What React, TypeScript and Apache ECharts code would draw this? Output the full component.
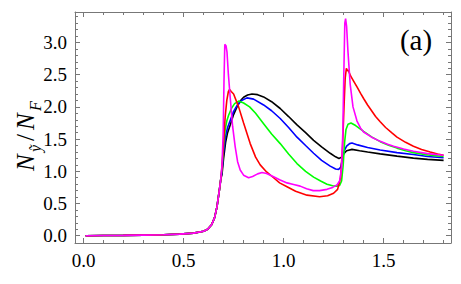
import React, { useEffect, useRef } from "react";
import * as echarts from "echarts";

// ---- data ----
const commonRise: [number, number][] = [
  [0.01, 0], [0.1, 0.003], [0.2, 0.006], [0.3, 0.01], [0.4, 0.015], [0.48, 0.025],
  [0.55, 0.04], [0.6, 0.07], [0.62, 0.1], [0.64, 0.17], [0.655, 0.28], [0.667, 0.45],
  [0.679, 0.71], [0.686, 0.88],
];

const blackTail: [number, number][] = [
  [0.692, 0.95], [0.7, 1.2], [0.71, 1.45], [0.72, 1.6], [0.733, 1.72], [0.75, 1.88],
  [0.767, 2.0], [0.785, 2.1], [0.8, 2.15], [0.82, 2.185], [0.842, 2.2], [0.87, 2.19],
  [0.9, 2.155], [0.94, 2.08], [0.983, 1.975], [1.025, 1.85], [1.067, 1.72], [1.11, 1.6],
  [1.15, 1.48], [1.19, 1.38], [1.233, 1.28], [1.26, 1.225], [1.277, 1.2], [1.29, 1.22],
  [1.3, 1.27], [1.315, 1.32], [1.342, 1.34], [1.38, 1.32], [1.42, 1.3], [1.483, 1.27],
  [1.567, 1.235], [1.649, 1.205], [1.72, 1.185], [1.8, 1.17],
];

const blueTail: [number, number][] = [
  [0.692, 1.0], [0.7, 1.3], [0.71, 1.55], [0.72, 1.68], [0.733, 1.79], [0.75, 1.93],
  [0.767, 2.02], [0.79, 2.1], [0.817, 2.14], [0.85, 2.12], [0.9, 2.03], [0.94, 1.94],
  [0.983, 1.82], [1.025, 1.68], [1.067, 1.53], [1.11, 1.4], [1.15, 1.28], [1.19, 1.17],
  [1.233, 1.08], [1.26, 1.035], [1.275, 1.03], [1.285, 1.06], [1.295, 1.2], [1.305, 1.33],
  [1.315, 1.39], [1.33, 1.43], [1.342, 1.44], [1.37, 1.41], [1.42, 1.37], [1.483, 1.33],
  [1.567, 1.29], [1.649, 1.26], [1.72, 1.23], [1.8, 1.21],
];

const greenTail: [number, number][] = [
  [0.692, 1.05], [0.7, 1.4], [0.708, 1.65], [0.716, 1.78], [0.725, 1.87], [0.74, 1.98],
  [0.755, 2.05], [0.775, 2.09], [0.8, 2.06], [0.83, 2.0], [0.86, 1.9], [0.9, 1.74],
  [0.94, 1.58], [0.983, 1.43], [1.025, 1.27], [1.067, 1.12], [1.11, 1.0], [1.15, 0.91],
  [1.185, 0.85], [1.217, 0.8], [1.245, 0.775], [1.267, 0.77], [1.28, 0.78], [1.29, 0.85],
  [1.298, 1.1], [1.305, 1.45], [1.312, 1.65], [1.322, 1.73], [1.337, 1.75], [1.36, 1.71],
  [1.4, 1.62], [1.44, 1.535], [1.483, 1.46], [1.525, 1.405], [1.567, 1.36], [1.61, 1.32],
  [1.649, 1.29], [1.72, 1.255], [1.8, 1.23],
];

const redTail: [number, number][] = [
  [0.692, 1.07], [0.7, 1.45], [0.708, 1.85], [0.716, 2.1], [0.724, 2.24], [0.73, 2.27],
  [0.738, 2.24], [0.75, 2.2], [0.775, 2.0], [0.8, 1.75], [0.833, 1.43], [0.86, 1.22],
  [0.883, 1.1], [0.915, 0.99], [0.95, 0.9], [0.98, 0.82], [1.017, 0.76], [1.06, 0.69],
  [1.117, 0.63], [1.18, 0.605], [1.22, 0.62], [1.25, 0.66], [1.27, 0.72], [1.285, 0.9],
  [1.295, 1.4], [1.302, 2.0], [1.308, 2.45], [1.314, 2.6], [1.318, 2.56], [1.323, 2.57],
  [1.335, 2.48], [1.35, 2.4], [1.367, 2.31], [1.385, 2.21], [1.4, 2.13], [1.42, 2.03],
  [1.44, 1.94], [1.46, 1.85], [1.483, 1.77], [1.51, 1.68], [1.54, 1.6], [1.567, 1.53],
  [1.61, 1.45], [1.649, 1.39], [1.69, 1.34], [1.733, 1.3], [1.77, 1.27], [1.8, 1.25],
];

const magentaTail: [number, number][] = [
  [0.692, 1.1], [0.698, 1.6], [0.702, 2.4], [0.706, 2.97], [0.712, 2.95], [0.717, 2.85],
  [0.724, 2.5], [0.733, 2.15], [0.745, 1.7], [0.758, 1.38], [0.77, 1.15], [0.783, 1.02],
  [0.8, 0.94], [0.825, 0.9], [0.845, 0.92], [0.87, 0.96], [0.892, 0.98], [0.915, 0.965],
  [0.95, 0.915], [0.98, 0.87], [1.017, 0.82], [1.05, 0.795], [1.083, 0.77], [1.115, 0.73],
  [1.148, 0.7], [1.18, 0.7], [1.217, 0.72], [1.245, 0.75], [1.267, 0.79], [1.28, 0.85],
  [1.29, 1.05], [1.296, 1.6], [1.301, 2.5], [1.306, 3.3], [1.31, 3.37], [1.315, 3.25],
  [1.322, 2.85], [1.333, 2.35], [1.347, 2.0], [1.367, 1.78], [1.385, 1.67], [1.4, 1.61],
  [1.44, 1.53], [1.483, 1.465], [1.52, 1.42], [1.55, 1.39], [1.6, 1.345], [1.649, 1.31],
  [1.72, 1.275], [1.8, 1.25],
];

const xMajor = [0, 0.5, 1.0, 1.5];
const xMinor = [0.1, 0.2, 0.3, 0.4, 0.6, 0.7, 0.8, 0.9, 1.1, 1.2, 1.3, 1.4, 1.6, 1.7, 1.8];
const yMajor = [0, 0.5, 1.0, 1.5, 2.0, 2.5, 3.0];
const yMinor = [
  0.1, 0.2, 0.3, 0.4, 0.6, 0.7, 0.8, 0.9, 1.1, 1.2, 1.3, 1.4, 1.6, 1.7, 1.8, 1.9,
  2.1, 2.2, 2.3, 2.4, 2.6, 2.7, 2.8, 2.9, 3.1, 3.2, 3.3, 3.4,
];

const X_MIN = -0.043;
const X_MAX = 1.837;
const Y_MIN = -0.113;
const Y_MAX = 3.473;

const FRAME = "#777777";
const SERIF = "Liberation Serif";

export default function App() {
  const ref = useRef<HTMLDivElement>(null);

  useEffect(() => {
    if (!ref.current) return;
    const chart = echarts.init(ref.current, undefined, { renderer: "svg" });

    const lineStyle = { color: FRAME, width: 1 };
    const labelStyle = {
      show: true,
      formatter: (v: number) => v.toFixed(1),
      fontFamily: SERIF,
      fontSize: 19,
      color: "#000",
      margin: 8,
    };
    const mkX = (position: "bottom" | "top", major: boolean, showLine: boolean, labels: boolean) => ({
      type: "value",
      min: X_MIN,
      max: X_MAX,
      position,
      axisLine: { show: showLine, onZero: false, lineStyle },
      axisTick: {
        show: true,
        inside: true,
        length: major ? 5 : 3,
        customValues: major ? xMajor : xMinor,
        lineStyle,
      },
      axisLabel: labels ? { ...labelStyle, customValues: xMajor } : { show: false },
      splitLine: { show: false },
    });
    const mkY = (position: "left" | "right", major: boolean, showLine: boolean, labels: boolean) => ({
      type: "value",
      min: Y_MIN,
      max: Y_MAX,
      position,
      axisLine: { show: showLine, onZero: false, lineStyle },
      axisTick: {
        show: true,
        inside: true,
        length: major ? 5 : 3,
        customValues: major ? yMajor : yMinor,
        lineStyle,
      },
      axisLabel: labels ? { ...labelStyle, customValues: yMajor } : { show: false },
      splitLine: { show: false },
    });

    const mkSeries = (name: string, color: string, tail: [number, number][]) => ({
      name,
      type: "line",
      xAxisIndex: 0,
      yAxisIndex: 0,
      data: [...commonRise, ...tail],
      showSymbol: false,
      symbol: "none",
      lineStyle: { color, width: 1.6 },
      itemStyle: { color },
      z: 3,
    });

    const txt = (text: string, x: number, y: number, size: number, italic: boolean) => ({
      type: "text",
      x,
      y,
      style: {
        text,
        fontFamily: SERIF,
        fontSize: size,
        fontStyle: italic ? "italic" : "normal",
        fill: "#000",
        verticalAlign: "bottom",
      },
    });

    chart.setOption({
      animation: false,
      textStyle: { fontFamily: SERIF },
      grid: { left: 75, top: 12, right: 10, bottom: 41, containLabel: false },
      xAxis: [
        mkX("bottom", true, true, true),
        mkX("bottom", false, false, false),
        mkX("top", true, true, false),
        mkX("top", false, false, false),
      ],
      yAxis: [
        mkY("left", true, true, true),
        mkY("left", false, false, false),
        mkY("right", true, true, false),
        mkY("right", false, false, false),
      ],
      series: [
        mkSeries("black", "#000000", blackTail),
        mkSeries("blue", "#0000ff", blueTail),
        mkSeries("green", "#00ff00", greenTail),
        mkSeries("red", "#ff0000", redTail),
        mkSeries("magenta", "#ff00ff", magentaTail),
      ],
      graphic: [
        {
          type: "text",
          x: 416,
          y: 40,
          style: {
            text: "(a)",
            fontFamily: SERIF,
            fontSize: 29,
            fill: "#000",
            align: "center",
            verticalAlign: "middle",
          },
        },
        {
          type: "group",
          x: 38,
          y: 171,
          rotation: Math.PI / 2,
          children: [
            txt("N", 0, 0, 25, true),
            txt("ỹ", 19, 5, 16, true),
            txt("/", 30, 0, 25, false),
            txt("N", 41, 0, 25, true),
            txt("F", 60, 5, 16, true),
          ],
        },
      ],
    });

    return () => chart.dispose();
  }, []);

  return <div ref={ref} style={{ width: 461, height: 284, position: "absolute", left: 0, top: 0 }} />;
}
